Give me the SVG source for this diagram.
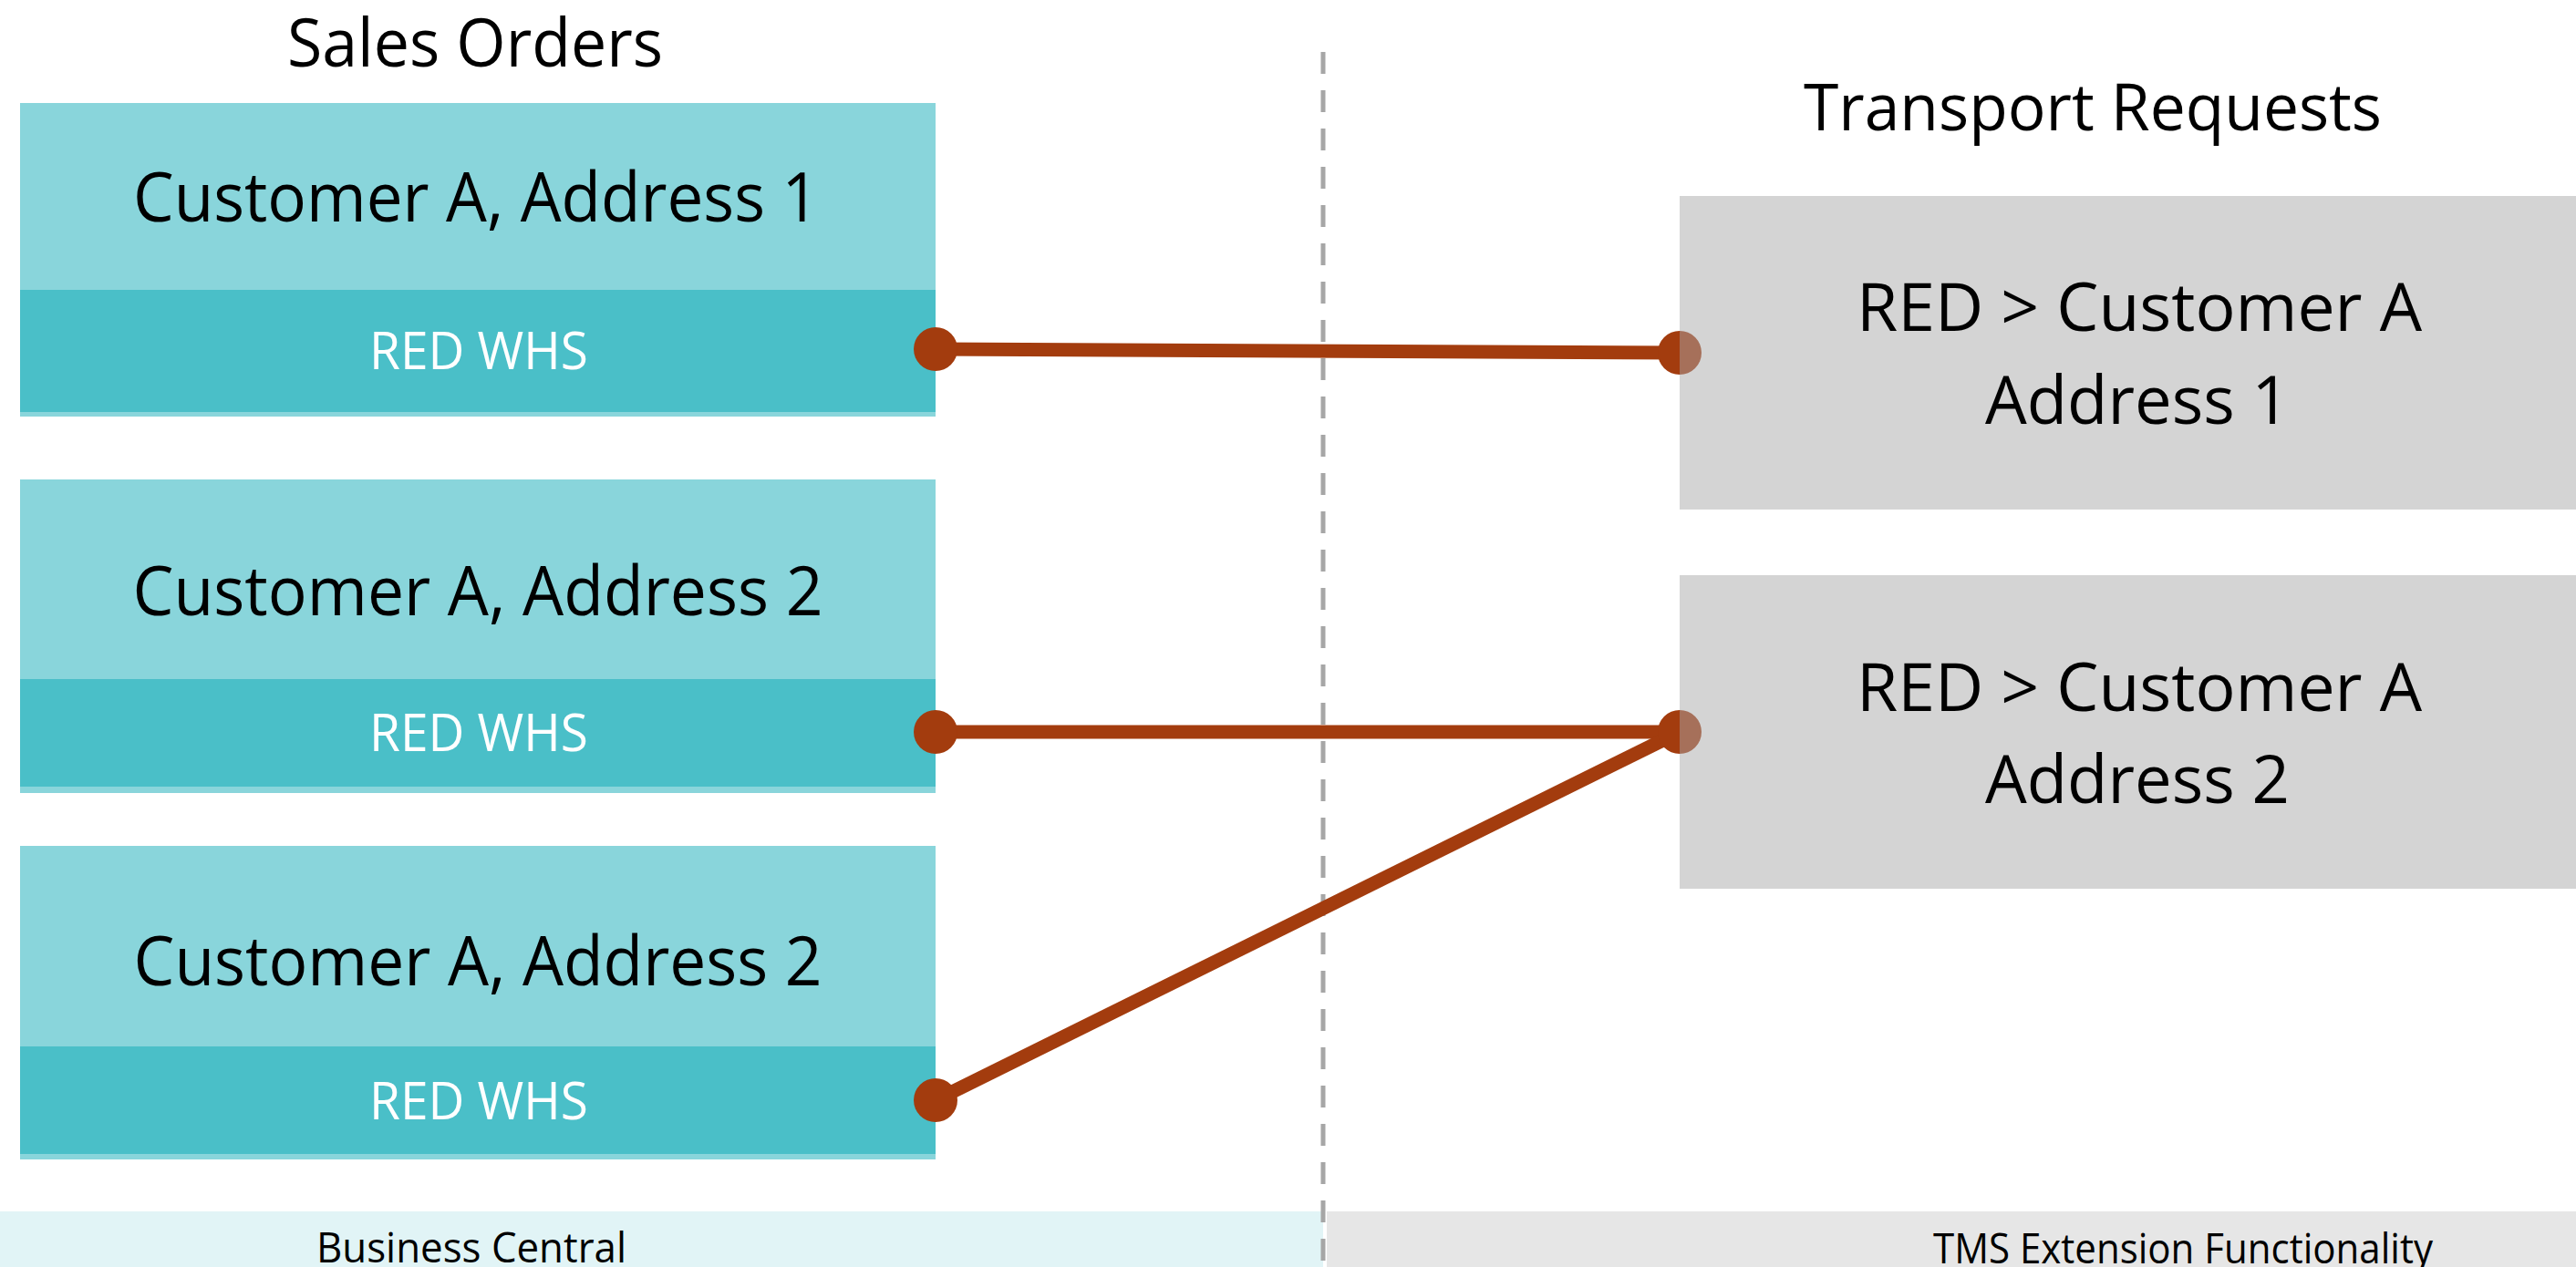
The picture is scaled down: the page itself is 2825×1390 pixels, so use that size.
<svg xmlns="http://www.w3.org/2000/svg" width="2825" height="1390" viewBox="0 0 2825 1390">
<style>
  .t{font-family:"Open Sans","Noto Sans","Liberation Sans",sans-serif;fill:#000;text-anchor:middle}
  .w{font-family:"Open Sans","Noto Sans","Liberation Sans",sans-serif;fill:#fff;text-anchor:middle}
  .lt{fill:#89D5DB}
  .dk{fill:#4ABFC8}
  .gr{fill:#D4D4D4}
  .cn{stroke:#A33C0E;stroke-width:15;fill:none}
  .dot{fill:#A33C0E}
  .dot2{fill:#A6705A}
</style>
<rect width="2825" height="1390" fill="#fff"/>
<g id="band-bc">
  <rect x="0" y="1329" width="1451" height="61" fill="#E1F4F6"/>
  <text class="t" x="517" y="1385" font-size="46" textLength="340" lengthAdjust="spacingAndGlyphs">Business Central</text>
</g>
<g id="band-tms">
  <rect x="1455" y="1329" width="1370" height="61" fill="#E6E6E6"/>
  <text class="t" x="2394" y="1386" font-size="46" textLength="548" lengthAdjust="spacingAndGlyphs">TMS Extension Functionality</text>
</g>
<line id="divider" x1="1451" y1="57" x2="1451" y2="1390" stroke="#A6A6A6" stroke-width="5" stroke-dasharray="24 18"/>
<text id="title-sales" class="t" x="521" y="73" font-size="73" textLength="412" lengthAdjust="spacingAndGlyphs">Sales Orders</text>
<text id="title-transport" class="t" x="2295" y="143" font-size="72" textLength="634" lengthAdjust="spacingAndGlyphs">Transport Requests</text>
<g id="so1">
  <rect class="lt" x="22" y="113" width="1004" height="344"/>
  <rect class="dk" x="22" y="318" width="1004" height="134"/>
  <text class="t" x="522" y="243" font-size="75" textLength="752" lengthAdjust="spacingAndGlyphs">Customer A, Address 1</text>
  <text class="w" x="525" y="405" font-size="56" textLength="240" lengthAdjust="spacingAndGlyphs">RED WHS</text>
</g>
<g id="so2">
  <rect class="lt" x="22" y="526" width="1004" height="344"/>
  <rect class="dk" x="22" y="745" width="1004" height="118"/>
  <text class="t" x="524" y="675" font-size="75" textLength="757" lengthAdjust="spacingAndGlyphs">Customer A, Address 2</text>
  <text class="w" x="525" y="824" font-size="56" textLength="240" lengthAdjust="spacingAndGlyphs">RED WHS</text>
</g>
<g id="so3">
  <rect class="lt" x="22" y="928" width="1004" height="344"/>
  <rect class="dk" x="22" y="1148" width="1004" height="118"/>
  <text class="t" x="524" y="1081" font-size="75" textLength="755" lengthAdjust="spacingAndGlyphs">Customer A, Address 2</text>
  <text class="w" x="525" y="1228" font-size="56" textLength="240" lengthAdjust="spacingAndGlyphs">RED WHS</text>
</g>
<g id="tr1">
  <rect class="gr" x="1842" y="215" width="983" height="344"/>
  <text class="t" x="2346" y="363" font-size="74" textLength="620" lengthAdjust="spacingAndGlyphs">RED &gt; Customer A</text>
  <text class="t" x="2344" y="465" font-size="74" textLength="334" lengthAdjust="spacingAndGlyphs">Address 1</text>
</g>
<g id="tr2">
  <rect class="gr" x="1842" y="631" width="983" height="344"/>
  <text class="t" x="2346" y="780" font-size="74" textLength="620" lengthAdjust="spacingAndGlyphs">RED &gt; Customer A</text>
  <text class="t" x="2344" y="881" font-size="74" textLength="334" lengthAdjust="spacingAndGlyphs">Address 2</text>
</g>
<g id="connectors">
  <line class="cn" x1="1026" y1="383" x2="1842" y2="387"/>
  <line class="cn" x1="1026" y1="803" x2="1842" y2="803"/>
  <line class="cn" x1="1026" y1="1207" x2="1842" y2="803"/>
  <circle class="dot" cx="1026" cy="383" r="24"/>
  <circle class="dot" cx="1026" cy="803" r="24"/>
  <circle class="dot" cx="1026" cy="1207" r="24"/>
  <path class="dot" d="M1842,363 A24,24 0 0 0 1842,411 Z"/>
  <path class="dot2" d="M1842,363 A24,24 0 0 1 1842,411 Z"/>
  <path class="dot" d="M1842,779 A24,24 0 0 0 1842,827 Z"/>
  <path class="dot2" d="M1842,779 A24,24 0 0 1 1842,827 Z"/>
</g>
</svg>
